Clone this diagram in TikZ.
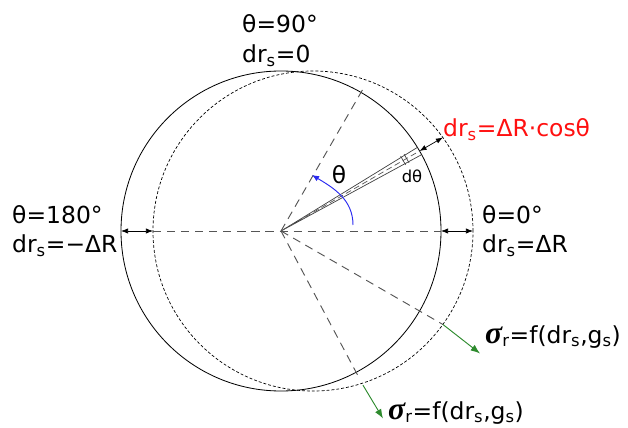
\documentclass[tikz,border=0pt]{standalone}
\usepackage{fontspec}
\setmainfont{DejaVu Sans}
\newfontfamily\sigmafont{Liberation Serif}
\usetikzlibrary{arrows.meta, calc}
\definecolor{cArrow}{HTML}{2E8B2E}
\definecolor{cAngle}{HTML}{2A2AF0}
\definecolor{cRed}{HTML}{FF1010}
\definecolor{cRay}{HTML}{555555}
\newcommand{\sigr}{{\sigmafont\bfseries\itshape\fontsize{27}{27}\selectfont σ}}

\begin{document}
\begin{tikzpicture}[
  x=0.03cm, y=0.03cm,
  lbl/.style={anchor=base west, inner sep=0pt, font=\fontsize{20}{24}\selectfont},
  ray/.style={draw=cRay, dash pattern=on 7pt off 5pt, line width=0.8pt},
  gap/.style={{Latex[length=6pt,width=4.5pt]}-{Latex[length=6pt,width=4.5pt]}, line width=0.6pt},
  push/.style={-{Latex[length=8pt,width=6pt]}, draw=cArrow, line width=0.8pt},
]
\useasboundingbox (-281,-196) rectangle (347,231);

% circles
\coordinate (O) at (0,0);
\coordinate (O2) at (32,0);
\draw[line width=0.7pt] (O) circle[radius=160];
\draw[line width=0.6pt, dash pattern=on 2.5pt off 1.7pt] (O2) circle[radius=160];

% radial lines
\coordinate (west) at (-128,0);
\coordinate (east) at (160,0);
\coordinate (up) at (60:166);
\coordinate (down) at (-62:165);
\coordinate (low) at (-30:187);
\draw[ray] (west) -- (east);
\draw[ray] (O) -- (up);
\draw[ray] (O) -- (down);
\draw[ray] (O) -- (low);

% element d-theta
\draw[line width=0.6pt, black!75] (28.5:160) -- (O) -- (31.5:160);
\draw[ray, dash pattern=on 5pt off 3pt, line width=0.6pt] (O) -- (30:160);
\begin{scope}[rotate=30, line width=0.6pt, black!75]
  \draw (141,-5) -- (141,5);
  \draw (145,-5) -- (145,5);
\end{scope}

% gaps
\coordinate (rim) at (30:160);
\coordinate (rimout) at (30:187);
\draw[gap] (-160,0) -- (west);
\draw[gap] (east) -- (192,0);
\draw[gap] (rim) -- (rimout);

% angle
\coordinate (a0) at (72,6);
\coordinate (a1) at (31,56);
\draw[-{Latex[length=6pt,width=5pt]}, cAngle, line width=0.8pt] (a0) to[out=90,in=-31] (a1);

% surface stress
\coordinate (lowout) at (-62:174.5);
\draw[push] (low) -- ++(-38:47);
\draw[push] (lowout) -- ++(-59:39);

% labels
\node[lbl] (top1) at (-39,198) {θ=90°};
\node[lbl] (top2) at (-39,168) {dr\textsubscript{s}=0};
\node[lbl] (left1) at (-269,7) {θ=180°};
\node[lbl] (left2) at (-269,-22) {dr\textsubscript{s}=−ΔR};
\node[lbl] (right1) at (201,7) {θ=0°};
\node[lbl] (right2) at (201,-22) {dr\textsubscript{s}=ΔR};
\node[lbl, text=cRed] (shift) at (162,94) {dr\textsubscript{s}=ΔR·cosθ};
\node[font=\fontsize{20}{24}\selectfont, inner sep=0pt] (ang) at (58,56) {θ};
\node[font=\fontsize{14}{16}\selectfont, inner sep=0pt] (dang) at (131,55) {dθ};
\node[lbl] (stress1) at (204,-112)
  {\sigr\textsubscript{r}=f(dr\textsubscript{s},g\textsubscript{s})};
\node[lbl] (stress2) at (107,-188)
  {\sigr\textsubscript{r}=f(dr\textsubscript{s},g\textsubscript{s})};

\end{tikzpicture}
\end{document}
